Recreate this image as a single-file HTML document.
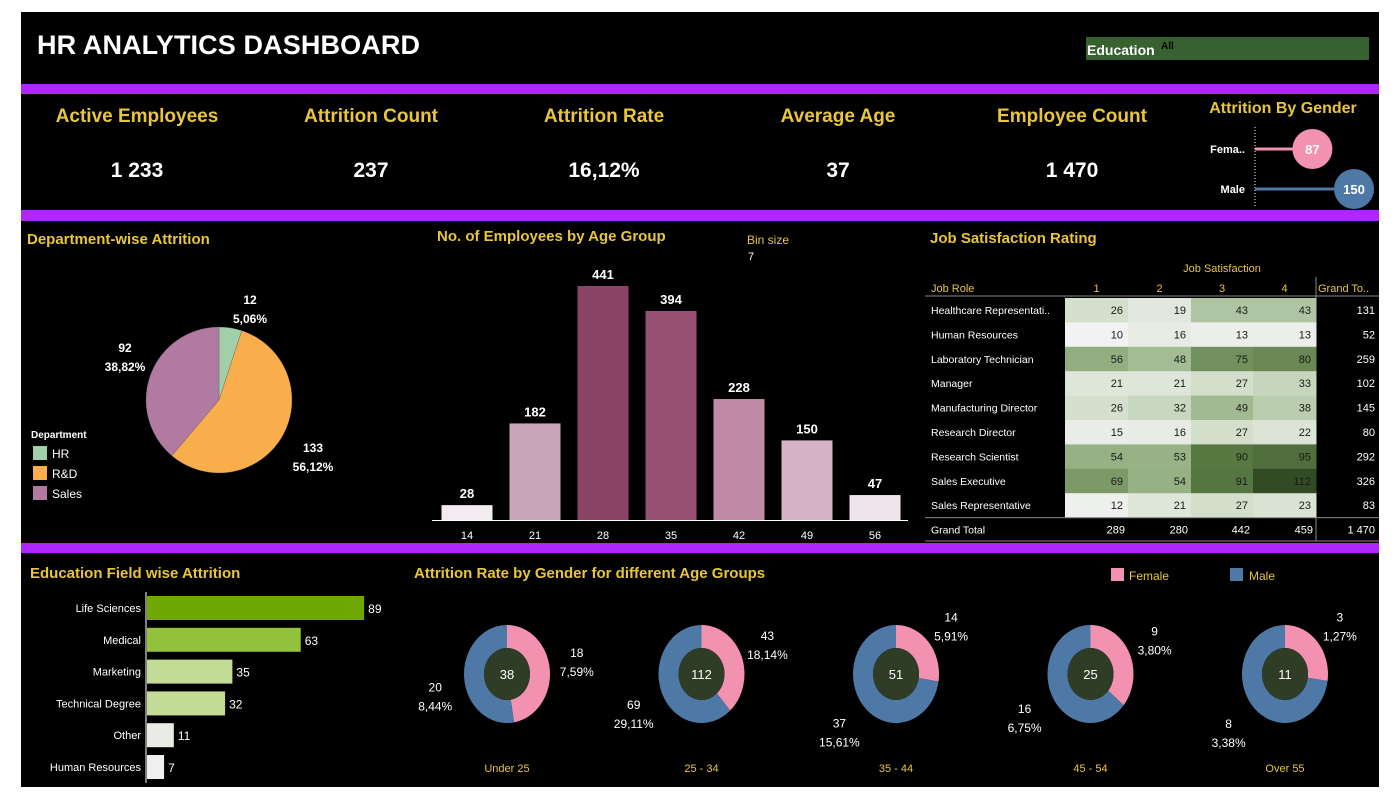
<!DOCTYPE html>
<html><head><meta charset="utf-8">
<style>
html,body{margin:0;padding:0;background:#fff;width:1399px;height:799px;overflow:hidden}
svg{display:block;font-family:"Liberation Sans",sans-serif}
</style></head>
<body>
<svg id="s" width="1399" height="799" viewBox="0 0 1399 799" xmlns="http://www.w3.org/2000/svg">
<rect x="21" y="12" width="1358" height="775" fill="#000"/>
<rect x="21" y="84" width="1358" height="10" fill="#b026ff"/>
<rect x="21" y="210" width="1358" height="11" fill="#b026ff"/>
<rect x="21" y="543" width="1358" height="10" fill="#b026ff"/>
<text x="37" y="54" fill="#fff" font-size="27" font-weight="bold" textLength="383">HR ANALYTICS DASHBOARD</text>
<g>
<rect x="1086" y="37" width="283" height="23" fill="#386130"/>
<text x="1087" y="55" fill="#fff" font-size="14" font-weight="bold">Education</text>
<text x="1161" y="49" fill="#000" font-size="10" font-weight="bold">All</text>
</g>
<g id="kpis"></g>
<text x="1283" y="113" fill="#e8c53a" font-size="16" font-weight="bold" text-anchor="middle">Attrition By Gender</text>
<g id="gender"></g>
<text x="27" y="244" fill="#e8c53a" font-size="15" font-weight="bold">Department-wise Attrition</text>
<g id="pie"></g>
<text x="437" y="241" fill="#e8c53a" font-size="15" font-weight="bold">No. of Employees by Age Group</text>
<text x="747" y="244" fill="#e8c53a" font-size="12">Bin size</text>
<text x="748" y="260" fill="#fff" font-size="11">7</text>
<g id="age"></g>
<text x="930" y="243" fill="#e8c53a" font-size="15" font-weight="bold">Job Satisfaction Rating</text>
<g id="heat"></g>
<text x="30" y="578" fill="#e8c53a" font-size="15" font-weight="bold">Education Field wise Attrition</text>
<g id="edu"></g>
<text x="414" y="578" fill="#e8c53a" font-size="15" font-weight="bold">Attrition Rate by Gender for different Age Groups</text>
<g>
<rect x="1111" y="568" width="13" height="13" fill="#f391b1"/><text x="1129" y="580" fill="#e8c53a" font-size="12">Female</text>
<rect x="1230" y="568" width="13" height="13" fill="#4e79a7"/><text x="1249" y="580" fill="#e8c53a" font-size="12">Male</text>
</g>
<g id="donuts"></g>
</svg>
<script>
const NS="http://www.w3.org/2000/svg";
function mk(p,t,a,txt){const e=document.createElementNS(NS,t);for(const k in a)e.setAttribute(k,a[k]);if(txt!==undefined)e.textContent=txt;p.appendChild(e);return e;}
const $=id=>document.getElementById(id);

// KPIs
const kpiNames=["Active Employees","Attrition Count","Attrition Rate","Average Age","Employee Count"];
const kpiValues=["1 233","237","16,12%","37","1 470"];
const kpiX=[137,371,604,838,1072];
kpiNames.forEach((n,i)=>{
 const g=mk($("kpis"),"g",{});
 
 
 mk(g,"text",{x:kpiX[i],y:122,fill:"#e8c53a","font-size":19,"font-weight":"bold","text-anchor":"middle"},n);
 mk(g,"text",{x:kpiX[i],y:177,fill:"#fff","font-size":21,"font-weight":"bold","text-anchor":"middle"},kpiValues[i]);
});

// Gender
const genders=["Fema..","Male"];
const genderVals=[87,150];
const genderColors=["#f391b1","#4e79a7"];
(function(){
 const g=$("gender"),x0=1255,sc=0.66,ys=[149,189];
 mk(g,"line",{x1:x0,y1:127,x2:x0,y2:208,stroke:"#fff","stroke-dasharray":"1,2"});
 genders.forEach((n,i)=>{
  const x=x0+genderVals[i]*sc;
  const gg=mk(g,"g",{});
  
  
  mk(gg,"text",{x:1245,y:ys[i]+4,fill:"#fff","font-size":11,"font-weight":"bold","text-anchor":"end"},n);
  mk(gg,"line",{x1:x0,y1:ys[i],x2:x,y2:ys[i],stroke:genderColors[i],"stroke-width":3});
  mk(gg,"circle",{cx:x,cy:ys[i],r:20,fill:genderColors[i]});
  mk(gg,"text",{x:x,y:ys[i]+5,fill:"#fff","font-size":13,"font-weight":"bold","text-anchor":"middle"},genderVals[i]);
 });
})();

// Pie
const depts=["HR","R&D","Sales"];
const deptVals=[12,133,92];
const deptColors=["#a0cfa9","#f9ae4c","#b07aa1"];
(function(){
 const g=$("pie"),cx=219,cy=400,r=73,tot=deptVals.reduce((a,b)=>a+b,0);
 let a=0;
 deptVals.forEach((v,i)=>{
  const a1=a+v/tot*2*Math.PI;
  const p=(t)=>[cx+r*Math.sin(t),cy-r*Math.cos(t)];
  const [x0,y0]=p(a),[x1,y1]=p(a1);
  const s=mk(g,"path",{d:`M${cx},${cy}L${x0},${y0}A${r},${r} 0 ${a1-a>Math.PI?1:0} 1 ${x1},${y1}Z`,fill:deptColors[i],stroke:"#555","stroke-width":0.3});
  
  
  a=a1;
 });
 const lab=[[250,304],[313,452],[125,352]];
 deptVals.forEach((v,i)=>{
  const pct=(v/tot*100).toFixed(2).replace('.',',')+'%';
  const t=mk(g,"text",{x:lab[i][0],y:lab[i][1],fill:"#fff","font-size":12,"font-weight":"bold","text-anchor":"middle"});
  
  
  mk(t,"tspan",{x:lab[i][0],dy:0},v);mk(t,"tspan",{x:lab[i][0],dy:19},pct);
 });
 mk(g,"text",{x:31,y:438,fill:"#fff","font-size":10,"font-weight":"bold"},"Department");
 depts.forEach((d,i)=>{
  const le=mk(g,"g",{});
  
  
  mk(le,"rect",{x:33,y:446+i*20,width:14,height:14,fill:deptColors[i]});
  mk(le,"text",{x:52,y:458+i*20,fill:"#fff","font-size":12},d);
 });
})();

// Age histogram
const ageBins=[14,21,28,35,42,49,56];
const ageCounts=[28,182,441,394,228,150,47];
const ageColors=["#f2ecf0","#c9a6b9","#8b4467","#974f73","#c08aa6","#d4b3c5","#eee4ea"];
(function(){
 const g=$("age"),base=520,sc=234/441,x0=467,dx=68,w=51;
 mk(g,"line",{x1:432,y1:base+0.5,x2:908,y2:base+0.5,stroke:"#fff"});
 ageBins.forEach((b,i)=>{
  const x=x0+i*dx,h=ageCounts[i]*sc;
  const r=mk(g,"rect",{x:x-w/2,y:base-h,width:w,height:h,fill:ageColors[i]});
  
  
  mk(g,"text",{x:x,y:base-h-7,fill:"#fff","font-size":13,"font-weight":"bold","text-anchor":"middle"},ageCounts[i]);
  mk(g,"text",{x:x,y:539,fill:"#fff","font-size":11,"text-anchor":"middle"},b);
 });
})();

// Heatmap
const roles=["Healthcare Representati..","Human Resources","Laboratory Technician","Manager","Manufacturing Director","Research Director","Research Scientist","Sales Executive","Sales Representative"];
const sat1=[26,10,56,21,26,15,54,69,12];
const sat2=[19,16,48,21,32,16,53,54,21];
const sat3=[43,13,75,27,49,27,90,91,27];
const sat4=[43,13,80,33,38,22,95,112,23];
const satLevels=["1","2","3","4"];
(function(){
 const g=$("heat"),cols=[sat1,sat2,sat3,sat4],cx=[1065,1128,1191,1253,1316],y0=298,rh=24.4;
 const stops=[[10,[242,242,242]],[30,[205,218,196]],[55,[148,176,130]],[90,[88,120,66]],[112,[50,75,36]]];
 const col=v=>{for(let k=0;k<stops.length-1;k++){const [a,ca]=stops[k],[b,cb]=stops[k+1];if(v<=b){const t=Math.max(0,(v-a)/(b-a));return `rgb(${ca.map((c,j)=>Math.round(c+(cb[j]-c)*t)).join(',')})`;}}return 'rgb(50,75,36)';};
 mk(g,"text",{x:1222,y:272,fill:"#e8c53a","font-size":11,"text-anchor":"middle"},"Job Satisfaction");
 mk(g,"text",{x:931,y:292,fill:"#e8c53a","font-size":11},"Job Role");
 satLevels.forEach((s,j)=>mk(g,"text",{x:(cx[j]+cx[j+1])/2,y:292,fill:"#e8c53a","font-size":11,"text-anchor":"middle"},s));
 mk(g,"text",{x:1318,y:292,fill:"#e8c53a","font-size":11},"Grand To..");
 mk(g,"line",{x1:1316,y1:277,x2:1316,y2:541,stroke:"#aaa","stroke-width":0.8});
 mk(g,"line",{x1:925,y1:296,x2:1379,y2:296,stroke:"#888"});
 const totals=[0,0,0,0];
 roles.forEach((r,i)=>{
  const y=y0+i*rh;
  mk(g,"text",{x:931,y:y+16,fill:"#fff","font-size":10.5},r);
  let rt=0;
  cols.forEach((c,j)=>{
   const v=c[i];rt+=v;totals[j]+=v;
   const cell=mk(g,"rect",{x:cx[j],y:y,width:cx[j+1]-cx[j]+0.5,height:rh+0.5,fill:col(v)});
   
   
   mk(g,"text",{x:cx[j+1]-5,y:y+16,fill:"#1a1a1a","font-size":11,"text-anchor":"end"},v);
  });
  mk(g,"text",{x:1375,y:y+16,fill:"#fff","font-size":11,"text-anchor":"end"},rt);
 });
 const gy=y0+9*rh;
 mk(g,"line",{x1:925,y1:gy,x2:1379,y2:gy,stroke:"#888"});
 mk(g,"line",{x1:925,y1:541,x2:1379,y2:541,stroke:"#888"});
 mk(g,"text",{x:931,y:gy+16,fill:"#fff","font-size":10.5},"Grand Total");
 let all=0;
 totals.forEach((t,j)=>{all+=t;mk(g,"text",{x:cx[j+1]-3,y:gy+16,fill:"#fff","font-size":11,"text-anchor":"end"},t);});
 mk(g,"text",{x:1375,y:gy+16,fill:"#fff","font-size":11,"text-anchor":"end"},String(all).replace(/\B(?=(\d{3})+$)/g,' '));
})();

// Education bars
const eduFields=["Life Sciences","Medical","Marketing","Technical Degree","Other","Human Resources"];
const eduVals=[89,63,35,32,11,7];
const eduColors=["#6ea800","#94c13c","#c2dc96","#c2dc96","#e9ece4","#f0f0f0"];
(function(){
 const g=$("edu"),x0=146,sc=2.44,y0=608,dy=31.8,h=24;
 mk(g,"line",{x1:x0,y1:592,x2:x0,y2:783,stroke:"#fff"});
 eduFields.forEach((f,i)=>{
  const y=y0+i*dy,w=eduVals[i]*sc;
  mk(g,"text",{x:x0-5,y:y+4,fill:"#fff","font-size":11,"text-anchor":"end"},f);
  const b=mk(g,"rect",{x:x0+1,y:y-h/2,width:w,height:h,fill:eduColors[i]});
  
  
  mk(g,"text",{x:x0+w+5,y:y+5,fill:"#fff","font-size":12},eduVals[i]);
 });
})();

// Donuts
const ageGroups=["Under 25","25 - 34","35 - 44","45 - 54","Over 55"];
const femaleAttr=[18,43,14,9,3];
const maleAttr=[20,69,37,16,8];
(function(){
 const g=$("donuts"),cy=674,rx=43,ry=49,irx=23,iry=26,tot=237;
 const fmt=v=>(v/tot*100).toFixed(2).replace('.',',')+'%';
 ageGroups.forEach((a,i)=>{
  const cx=507+i*194.5,f=femaleAttr[i],m=maleAttr[i],s=f+m;
  const dg=mk(g,"g",{});
  
  
  const arc=(t0,t1,c)=>{
   const p=(t,RX,RY)=>[cx+RX*Math.sin(t),cy-RY*Math.cos(t)];
   const [a0,b0]=p(t0,rx,ry),[a1,b1]=p(t1,rx,ry),[c1,d1]=p(t1,irx,iry),[c0,d0]=p(t0,irx,iry);
   const L=t1-t0>Math.PI?1:0;
   mk(dg,"path",{d:`M${a0},${b0}A${rx},${ry} 0 ${L} 1 ${a1},${b1}L${c1},${d1}A${irx},${iry} 0 ${L} 0 ${c0},${d0}Z`,fill:c});
  };
  const tf=f/s*2*Math.PI;
  arc(0,tf,"#f391b1");arc(tf,2*Math.PI-1e-4,"#4e79a7");
  mk(dg,"ellipse",{cx:cx,cy:cy,rx:irx,ry:iry,fill:"#2f3d26"});
  mk(dg,"text",{x:cx,y:cy+5,fill:"#fff","font-size":13,"text-anchor":"middle"},s);
  const fa=tf/2,ma=tf+(2*Math.PI-tf)/2;
  const fx=cx+62*Math.sin(fa)+8,fy=cy-62*Math.cos(fa)-12;
  const mx=cx+64*Math.sin(ma)-8,my=cy-64*Math.cos(ma)+12;
  const t1=mk(dg,"text",{fill:"#fff","font-size":12,"text-anchor":"middle"});
  mk(t1,"tspan",{x:fx,y:fy},f);mk(t1,"tspan",{x:fx,y:fy+19},fmt(f));
  const t2=mk(dg,"text",{fill:"#fff","font-size":12,"text-anchor":"middle"});
  mk(t2,"tspan",{x:mx,y:my},m);mk(t2,"tspan",{x:mx,y:my+19},fmt(m));
  mk(dg,"text",{x:cx,y:772,fill:"#e8c53a","font-size":11,"text-anchor":"middle"},a);
 });
})();
</script>
</body></html>
